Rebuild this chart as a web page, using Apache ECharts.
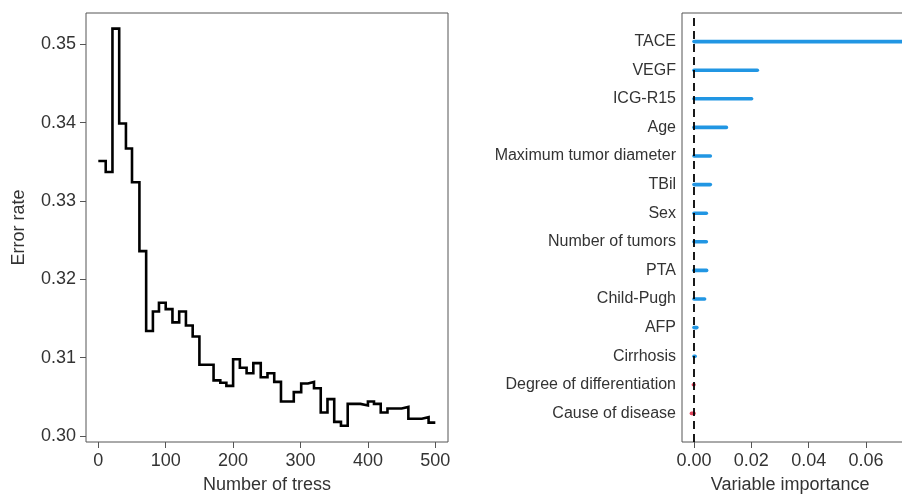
<!DOCTYPE html>
<html>
<head>
<meta charset="utf-8">
<script src="https://cdn.jsdelivr.net/npm/echarts@6/dist/echarts.min.js"></script>
<style>
  html, body { margin: 0; padding: 0; background: #fff; }
  #chart { width: 902px; height: 498px; }
</style>
</head>
<body>
<div id="chart"></div>
<script>
// Random forest OOB error: tree count where each level starts, and its error rate
const treeCounts = [0, 11, 21, 31, 41, 50, 61, 71, 81, 90, 100, 110, 120, 130, 140, 150,
  171, 181, 190, 200, 210, 220, 230, 241, 251, 261, 271, 290, 301, 311, 320, 330, 340,
  350, 360, 370, 389, 400, 409, 419, 429, 450, 460, 480, 490, 500];
const errorRates = [0.3351, 0.3337, 0.3520, 0.3399, 0.3367, 0.3324, 0.3236, 0.3134, 0.3159,
  0.3170, 0.3162, 0.3145, 0.3159, 0.3141, 0.3127, 0.3091, 0.3071, 0.3068, 0.3064, 0.3098,
  0.3087, 0.3080, 0.3093, 0.3075, 0.3080, 0.3069, 0.3044, 0.3056, 0.3067, 0.3069, 0.3061,
  0.3030, 0.3047, 0.3018, 0.3013, 0.3041, 0.3039, 0.3044, 0.3041, 0.3030, 0.3035, 0.3037,
  0.3022, 0.3024, 0.3017, 0.3017];
const treeTicks = [0, 100, 200, 300, 400, 500];
const errorTicks = [0.30, 0.31, 0.32, 0.33, 0.34, 0.35];

// Variable importance, listed top to bottom
const varNames = ['TACE', 'VEGF', 'ICG-R15', 'Age', 'Maximum tumor diameter', 'TBil', 'Sex',
  'Number of tumors', 'PTA', 'Child-Pugh', 'AFP', 'Cirrhosis', 'Degree of differentiation',
  'Cause of disease'];
const importance = [0.074, 0.0221, 0.0201, 0.0113, 0.0057, 0.0057, 0.0043, 0.0043, 0.0044,
  0.0037, 0.0010, 0.0004, -0.0002, -0.0009];
const importanceTicks = [0, 0.02, 0.04, 0.06];

const FONT = 'Liberation Sans, Arial, Helvetica, sans-serif';
const TEXT = '#333';
const LINE = '#555';

// category axis padded with empty slots at both ends, bottom to top
const cats = [''].concat(varNames.slice().reverse(), ['']);
const impData = varNames.slice().reverse().map((n, i) => [importance[varNames.length - 1 - i], i + 1]);

const stepData = treeCounts.map((t, i) => [t, errorRates[i]]);

const chart = echarts.init(document.getElementById('chart'), null, { renderer: 'canvas' });

chart.setOption({
  backgroundColor: '#fff',
  animation: false,
  textStyle: { fontFamily: FONT },
  grid: [
    { left: 86, top: 13, width: 362, height: 429, show: true, borderColor: LINE, borderWidth: 1,
      containLabel: false, outerBoundsMode: 'none' },
    { left: 682, top: 13, width: 241.3, height: 429, show: true, borderColor: LINE, borderWidth: 1,
      containLabel: false, outerBoundsMode: 'none' }
  ],
  xAxis: [
    {
      gridIndex: 0, type: 'value', min: -18.25, max: 518.8,
      name: 'Number of tress', nameLocation: 'middle', nameGap: 34,
      nameTextStyle: { fontSize: 18, color: TEXT, fontFamily: FONT },
      axisLine: { show: false, onZero: false },
      splitLine: { show: false },
      axisTick: { show: true, length: 6, lineStyle: { color: LINE }, customValues: treeTicks },
      axisLabel: { fontSize: 18, color: TEXT, margin: 10, fontFamily: FONT, customValues: treeTicks }
    },
    {
      gridIndex: 1, type: 'value', min: -0.004186, max: 0.08,
      name: 'Variable importance', nameLocation: 'middle', nameGap: 34,
      nameTextStyle: { fontSize: 18, color: TEXT, fontFamily: FONT, padding: [0, 25, 0, 0] },
      axisLine: { show: false, onZero: false },
      splitLine: { show: false },
      axisTick: { show: true, length: 6, lineStyle: { color: LINE }, customValues: importanceTicks },
      axisLabel: {
        fontSize: 18, color: TEXT, margin: 10, fontFamily: FONT, customValues: importanceTicks,
        formatter: v => v.toFixed(2)
      }
    }
  ],
  yAxis: [
    {
      gridIndex: 0, type: 'value', min: 0.29923, max: 0.35400,
      name: 'Error rate', nameLocation: 'middle', nameGap: 58, nameRotate: 90,
      nameTextStyle: { fontSize: 18, color: TEXT, fontFamily: FONT },
      axisLine: { show: false, onZero: false },
      splitLine: { show: false },
      axisTick: { show: true, length: 6, lineStyle: { color: LINE }, customValues: errorTicks },
      axisLabel: {
        fontSize: 18, color: TEXT, margin: 10, fontFamily: FONT, customValues: errorTicks,
        formatter: v => v.toFixed(2)
      }
    },
    {
      gridIndex: 1, type: 'category', data: cats, boundaryGap: false,
      axisLine: { show: false, onZero: false },
      axisTick: { show: false },
      splitLine: { show: false },
      axisLabel: { fontSize: 16, color: TEXT, margin: 6, fontFamily: FONT, interval: 0 }
    }
  ],
  series: [
    {
      type: 'line', xAxisIndex: 0, yAxisIndex: 0, step: 'end',
      data: stepData, showSymbol: false, symbol: 'none',
      lineStyle: { color: '#000', width: 2.6, join: 'miter' }
    },
    {
      type: 'custom', xAxisIndex: 1, yAxisIndex: 1, data: impData, clip: true,
      renderItem: function (params, api) {
        const v = api.value(0);
        const idx = api.value(1);
        const p0 = api.coord([0, idx]);
        const p1 = api.coord([v, idx]);
        return {
          type: 'line',
          shape: { x1: p0[0], y1: p0[1], x2: p1[0], y2: p1[1] },
          style: { stroke: v >= 0 ? '#2196e3' : '#e0445c', lineWidth: 3.6, lineCap: 'round' }
        };
      },
      markLine: {
        silent: true, symbol: 'none', animation: false,
        label: { show: false },
        lineStyle: { color: '#000', width: 1.8, type: [8, 5] },
        data: [{ xAxis: 0 }]
      }
    }
  ]
});
</script>
</body>
</html>
